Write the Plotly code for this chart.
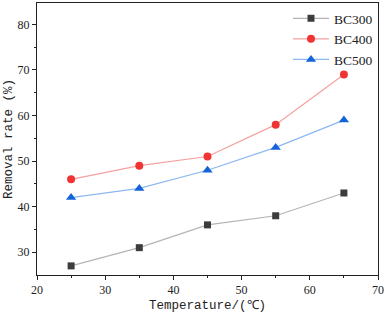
import plotly.graph_objects as go

temperature = [25, 35, 45, 55, 65]
bc300 = [27, 31, 36, 38, 43]
bc400 = [46, 49, 51, 58, 69]
bc500 = [42, 44, 48, 53, 59]

series = [
    ("BC300", bc300, "#3c3c3c", "#b4b4b4", "square", 7),
    ("BC400", bc400, "#f03434", "#f5a0a0", "circle", 8),
    ("BC500", bc500, "#1464d8", "#8cb8f0", "triangle-up", 9),
]

fig = go.Figure()
for name, vals, mc, lc, sym, sz in series:
    fig.add_trace(go.Scatter(
        x=temperature, y=vals, name=name, mode="lines+markers",
        line=dict(color=lc, width=1.2),
        marker=dict(color=mc, symbol=sym, size=sz),
    ))

font = "Liberation Serif"
mono = "Liberation Mono"
fig.update_layout(
    width=384, height=313,
    margin=dict(l=37, r=6, t=3, b=38, autoexpand=False),
    paper_bgcolor="white", plot_bgcolor="white",
    font=dict(family=font, size=12, color="#222"),
    showlegend=True,
    legend=dict(x=1.0, y=1.0, xanchor="right", yanchor="top",
                bgcolor="rgba(0,0,0,0)", font=dict(size=13.5, family=font),
                itemwidth=36, tracegroupgap=0),
)
fig.update_xaxes(
    range=[20, 70], tickvals=[20, 30, 40, 50, 60, 70], automargin=False,
    showgrid=False, zeroline=False, showline=True, linecolor="#222", linewidth=1,
    mirror=True, ticks="outside", ticklen=4, tickcolor="#222",
    minor=dict(tickvals=[25, 35, 45, 55, 65], ticks="outside", ticklen=2, tickcolor="#222"),
    title=dict(text="Temperature/(℃)", font=dict(size=12.5, family=mono), standoff=4),
)
fig.update_yaxes(
    range=[25, 84.7], tickvals=[30, 40, 50, 60, 70, 80], automargin=False,
    showgrid=False, zeroline=False, showline=True, linecolor="#222", linewidth=1,
    mirror=True, ticks="outside", ticklen=4, tickcolor="#222",
    minor=dict(tickvals=[35, 45, 55, 65, 75], ticks="outside", ticklen=2, tickcolor="#222"),
    title=dict(text="Removal rate (%)", font=dict(size=12.5, family=mono), standoff=2),
)
fig.write_html("out.html", config={"displayModeBar": False},
               post_script="document.body.style.margin='0';document.body.style.overflow='hidden';")
